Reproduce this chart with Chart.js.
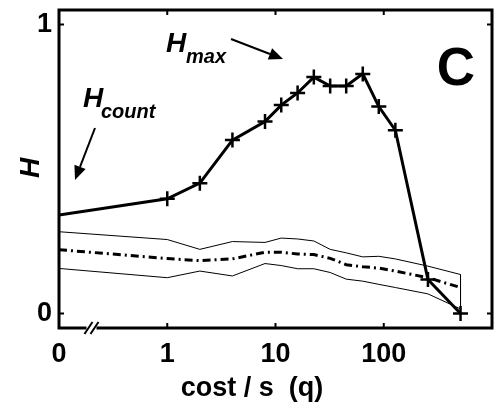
<!DOCTYPE html>
<html>
<head>
<meta charset="utf-8">
<script src="https://cdn.jsdelivr.net/npm/chart.js@4/dist/chart.umd.min.js"></script>
<style>
  html, body { margin: 0; padding: 0; background: #fff; }
  #wrap { width: 502px; height: 411px; }
</style>
</head>
<body>
<div id="wrap"><canvas id="c" width="502" height="411"></canvas></div>
<script>
// ---- data ----
const costs  = [0, 1, 2, 4, 8, 11.3, 16, 22.6, 32, 45, 64, 90, 128, 256, 512];
const hMax   = [0.341, 0.397, 0.451, 0.600, 0.664, 0.721, 0.763, 0.818, 0.787, 0.787, 0.829, 0.716, 0.634, 0.118, 0.000];
const hUpper = [0.283, 0.256, 0.222, 0.249, 0.246, 0.261, 0.258, 0.251, 0.222, 0.210, 0.196, 0.198, 0.189, 0.164, 0.135];
const hMid   = [0.221, 0.190, 0.183, 0.189, 0.212, 0.212, 0.206, 0.204, 0.191, 0.169, 0.162, 0.157, 0.147, 0.124, 0.090];
const hLower = [0.156, 0.124, 0.147, 0.130, 0.173, 0.166, 0.155, 0.155, 0.142, 0.119, 0.112, 0.101, 0.090, 0.068, 0.016];
const xTickValues = [0, 1, 10, 100];
const xTickLabels = ['0', '1', '10', '100'];
const yTickValues = [0, 1];
const yTickLabels = ['0', '1'];
const xFrameTicks = [1, 10, 100];

// position on the broken log axis: 0 is placed one decade below 1
function pos(c) { return c === 0 ? -1 : Math.log10(c); }

const pts = arr => costs.map((c, i) => ({ x: pos(c), y: arr[i] }));
const upperPts = pts(hUpper);
upperPts.push({ x: pos(costs[costs.length - 1]), y: hLower[hLower.length - 1] });

const FONT = '"Liberation Sans", Arial, Helvetica, sans-serif';

const decor = {
  id: 'decor',
  afterDraw(chart) {
    const ctx = chart.ctx;
    const a = chart.chartArea;
    const xs = chart.scales.x, ys = chart.scales.y;
    ctx.save();
    ctx.strokeStyle = '#000';
    ctx.fillStyle = '#000';
    // frame
    ctx.lineWidth = 3;
    ctx.strokeRect(a.left, a.top, a.right - a.left, a.bottom - a.top);
    // inside ticks
    ctx.lineWidth = 2;
    xFrameTicks.forEach(v => {
      const px = xs.getPixelForValue(pos(v));
      ctx.beginPath();
      ctx.moveTo(px, a.bottom); ctx.lineTo(px, a.bottom - 5);
      ctx.moveTo(px, a.top); ctx.lineTo(px, a.top + 5);
      ctx.stroke();
    });
    yTickValues.forEach(v => {
      const py = ys.getPixelForValue(v);
      ctx.beginPath();
      ctx.moveTo(a.left, py); ctx.lineTo(a.left + 5, py);
      ctx.moveTo(a.right, py); ctx.lineTo(a.right - 5, py);
      ctx.stroke();
    });
    // axis break mark "//"
    const bx = xs.getPixelForValue(-0.7);
    ctx.fillStyle = '#fff';
    ctx.fillRect(bx - 5, a.bottom - 2, 10, 4);
    ctx.lineWidth = 2;
    [-3, 3].forEach(d => {
      ctx.beginPath();
      ctx.moveTo(bx + d - 4, a.bottom + 6);
      ctx.lineTo(bx + d + 4, a.bottom - 6);
      ctx.stroke();
    });
    ctx.fillStyle = '#000';
    // x title
    ctx.textAlign = 'center';
    ctx.textBaseline = 'alphabetic';
    ctx.font = 'bold 27px ' + FONT;
    ctx.fillText('cost / s  (q)', 252, 396);
    // y title
    ctx.save();
    ctx.translate(31, 168);
    ctx.rotate(-Math.PI / 2);
    ctx.font = 'bold italic 28px ' + FONT;
    ctx.textBaseline = 'middle';
    ctx.fillText('H', 0, 0);
    ctx.restore();
    // panel letter
    ctx.font = 'bold 53px ' + FONT;
    ctx.textAlign = 'center';
    ctx.fillText('C', 456, 85);
    // annotations
    ctx.textAlign = 'left';
    ctx.font = 'bold italic 28px ' + FONT;
    ctx.fillText('H', 166, 52);
    ctx.fillText('H', 83, 107);
    ctx.font = 'bold italic 20px ' + FONT;
    ctx.fillText('max', 186, 63);
    ctx.fillText('count', 101, 118);
    // arrows
    function arrow(x1, y1, x2, y2) {
      ctx.lineWidth = 2;
      const ang = Math.atan2(y2 - y1, x2 - x1);
      const hl = 14, hw = 6;
      const bxp = x2 - hl * Math.cos(ang), byp = y2 - hl * Math.sin(ang);
      ctx.beginPath();
      ctx.moveTo(x1, y1); ctx.lineTo(bxp, byp);
      ctx.stroke();
      ctx.beginPath();
      ctx.moveTo(x2, y2);
      ctx.lineTo(bxp + hw * Math.sin(ang), byp - hw * Math.cos(ang));
      ctx.lineTo(bxp - hw * Math.sin(ang), byp + hw * Math.cos(ang));
      ctx.closePath();
      ctx.fill();
    }
    arrow(231, 39, 283, 59);
    arrow(95, 128, 75, 180);
    ctx.restore();
  }
};

new Chart(document.getElementById('c'), {
  type: 'scatter',
  data: {
    datasets: [
      {
        data: pts(hMax), showLine: true, borderColor: '#000', borderWidth: 3,
        pointStyle: 'cross', pointRadius: costs.map(c => c === 0 ? 0 : 7.5),
        pointBorderWidth: 2.5, pointBorderColor: '#000', pointBackgroundColor: '#000', order: 0
      },
      {
        data: upperPts, showLine: true, borderColor: '#000', borderWidth: 1,
        pointRadius: 0, order: 1
      },
      {
        data: pts(hLower), showLine: true, borderColor: '#000', borderWidth: 1,
        pointRadius: 0, order: 1
      },
      {
        data: pts(hMid), showLine: true, borderColor: '#000', borderWidth: 3,
        borderDash: [8, 4, 2, 4], pointRadius: 0, order: 1
      }
    ]
  },
  options: {
    responsive: false,
    animation: false,
    events: [],
    layout: { padding: { left: 0, right: 3, top: 6, bottom: 0 } },
    plugins: { legend: { display: false }, tooltip: { enabled: false } },
    scales: {
      x: {
        type: 'linear', min: -1, max: 3,
        grid: { display: false, drawTicks: false },
        border: { display: false },
        afterBuildTicks: s => { s.ticks = xTickValues.map(v => ({ value: pos(v) })); },
        ticks: {
          autoSkip: false, maxRotation: 0, padding: 10, color: '#000',
          font: { family: FONT, size: 27, weight: 'bold' },
          callback: (v, i) => xTickLabels[i]
        },
        afterFit: s => { s.height = 83; s.paddingLeft = 0; s.paddingRight = 0; }
      },
      y: {
        type: 'linear', min: -0.05, max: 1.05,
        grid: { display: false, drawTicks: false },
        border: { display: false },
        afterBuildTicks: s => { s.ticks = yTickValues.map(v => ({ value: v })); },
        ticks: {
          autoSkip: false, padding: 7, color: '#000',
          font: { family: FONT, size: 27, weight: 'bold' },
          callback: (v, i) => yTickLabels[i]
        },
        afterFit: s => { s.width = 59; s.paddingTop = 0; s.paddingBottom = 0; }
      }
    }
  },
  plugins: [decor]
});
</script>
</body>
</html>
